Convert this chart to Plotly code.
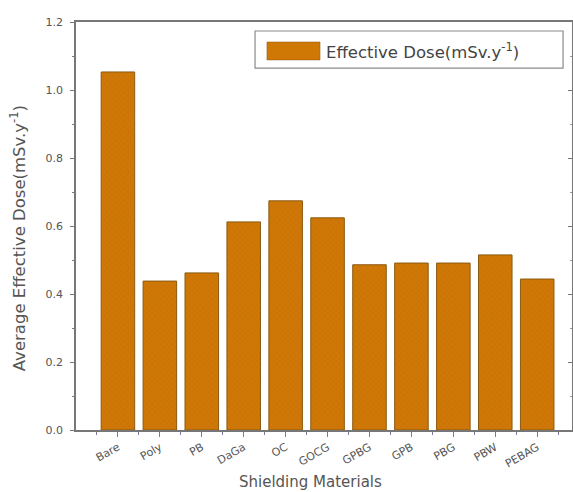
import plotly.graph_objects as go

categories = ["Bare", "Poly", "PB", "DaGa", "OC", "GOCG", "GPBG", "GPB", "PBG", "PBW", "PEBAG"]
dose = [1.053, 0.438, 0.462, 0.612, 0.674, 0.624, 0.486, 0.491, 0.491, 0.515, 0.444]
series_name = "Effective Dose(mSv.y<sup>-1</sup>)"
x_title = "Shielding Materials"
y_title = "Average Effective Dose(mSv.y<sup>-1</sup>)"
positions = list(range(len(categories)))

bar_color = "#D07806"
edge_color = "#8A5A10"
text_color = "#555555"
FONT = "DejaVu Sans, Liberation Sans, Arial"

fig = go.Figure()
fig.add_trace(go.Bar(
    x=positions, y=dose, name=series_name, showlegend=False,
    width=0.8,
    marker=dict(color=bar_color, line=dict(color=edge_color, width=1),
                pattern=dict(shape="x", fgcolor="#B86A10", size=4, solidity=0.25)),
))
fig.add_trace(go.Scatter(x=[0], y=[0], yaxis="y2", mode="markers",
                         marker=dict(opacity=0), showlegend=False, hoverinfo="skip"))

# legend box (decoration, paper coordinates)
fig.add_shape(type="rect", xref="paper", yref="paper", x0=0.361, x1=0.982, y0=0.887, y1=0.978,
              line=dict(color="#8a8a8a", width=1.2), fillcolor="white")
fig.add_shape(type="rect", xref="paper", yref="paper", x0=0.385, x1=0.492, y0=0.907, y1=0.951,
              line=dict(color=edge_color, width=0.5), fillcolor=bar_color)
fig.add_annotation(xref="paper", yref="paper", x=0.500, y=0.929, xanchor="left", yanchor="middle",
                   text=series_name, showarrow=False, font=dict(family=FONT, size=16.5, color="#444444"))

# axis titles
fig.add_annotation(xref="paper", yref="paper", x=0.472, y=-0.128, xanchor="center", yanchor="middle",
                   text=x_title, showarrow=False, font=dict(family=FONT, size=15, color=text_color))
fig.add_annotation(xref="paper", yref="paper", x=-0.117, y=0.47, xanchor="center", yanchor="middle",
                   text=y_title, textangle=-90, showarrow=False,
                   font=dict(family=FONT, size=16.5, color=text_color))

fig.update_layout(
    width=573, height=492,
    margin=dict(l=76, r=1, t=22, b=62),
    plot_bgcolor="white", paper_bgcolor="white",
    font=dict(family=FONT, size=11, color=text_color),
    showlegend=False,
    xaxis=dict(range=[-1, 10.83], tickmode="array", tickvals=positions, ticktext=categories,
               tickangle=-30, ticks="outside", ticklen=5, tickcolor="#7777aa",
               showline=True, linecolor="#777777", linewidth=1.5, mirror=True,
               showgrid=False, zeroline=False, tickfont=dict(family=FONT, size=11, color=text_color),
               automargin=False,
               minor=dict(tick0=0.5, dtick=1, ticks="outside", ticklen=3, tickcolor="#7777aa")),
    yaxis=dict(range=[0, 1.2], dtick=0.2, tickformat=".1f", ticks="outside", ticklen=4,
               tickcolor="#777777", showline=True, linecolor="#777777", linewidth=1.5,
               mirror=True, showgrid=False, zeroline=False, automargin=False,
               ticklabelstandoff=5,
               tickfont=dict(family=FONT, size=11, color=text_color),
               minor=dict(dtick=0.1, ticks="outside", ticklen=2, tickcolor="#777777")),
    yaxis2=dict(range=[0, 1.2], overlaying="y", side="right", dtick=0.2, ticks="inside",
                ticklen=4, tickcolor="#777777", showticklabels=False, showgrid=False,
                zeroline=False, showline=False, automargin=False,
                minor=dict(dtick=0.1, ticks="inside", ticklen=2, tickcolor="#999999")),
)

fig.write_html("out.html", config={"displayModeBar": False},
               post_script="document.body.style.margin='0px';")
